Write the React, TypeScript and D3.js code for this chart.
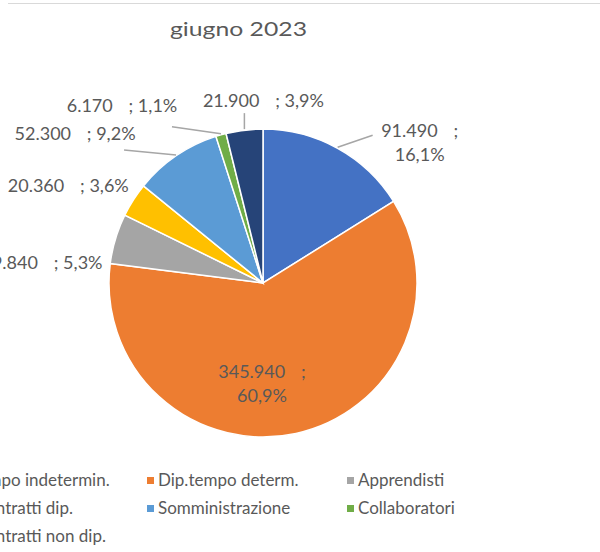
import React from "react";
import * as d3 from "d3";

const categories = [
  "Dip.tempo indetermin.",
  "Dip.tempo determ.",
  "Apprendisti",
  "Altri contratti dip.",
  "Somministrazione",
  "Collaboratori",
  "Altri contratti non dip.",
];
const values = [91490, 345940, 29840, 20360, 52300, 6170, 21900];
const colors = ["#4472C4", "#ED7D31", "#A5A5A5", "#FFC000", "#5B9BD5", "#70AD47", "#264478"];
const title = "giugno 2023";

// label layout: offsets relative to the slice's outer mid-point
const labelLayout = [
  { dx: 82, dy: -11, anchor: "middle", twoLines: true, leader: [35, -13] },
  { dx: -34, dy: -55, anchor: "middle", twoLines: true, leader: null },
  { dx: -13, dy: 30, anchor: "end", twoLines: false, leader: null },
  { dx: -65, dy: -8, anchor: "middle", twoLines: false, leader: null },
  { dx: -101, dy: -16, anchor: "middle", twoLines: false, leader: [-52, -6] },
  { dx: -99, dy: -23, anchor: "middle", twoLines: false, leader: [-49, -8] },
  { dx: 19, dy: -23, anchor: "middle", twoLines: false, leader: [0, -17] },
];

const W = 600;
const H = 552;
const cx = 263;
const cy = 283;
const R = 154;

const loc = d3.formatLocale({ decimal: ",", thousands: ".", grouping: [3], currency: ["", "€"] });
const fmtNum = loc.format(",d");
const fmtPct = loc.format(".1%");

const FONT = "Lato, 'Open Sans', sans-serif";
const TXT = "#595959";
const GAP = "\u2002\u2009 ";

export default function App() {
  const total = d3.sum(values);
  const pie = d3.pie<number>().sort(null).value((d) => d);
  const arcs = pie(values);
  const arcGen = d3.arc<d3.PieArcDatum<number>>().innerRadius(0).outerRadius(R);

  const legendCols = 3;
  const legendColX = [-69, 147, 347];
  const legendY0 = 486;
  const rowH = 28;

  return (
    <svg
      width={W}
      height={H}
      style={{ position: "absolute", left: 0, top: 0, background: "#fff" }}
      fontFamily={FONT}
    >
      <line x1={8} x2={W} y1={3.5} y2={3.5} stroke="#D9D9D9" strokeWidth={1} />
      <text
        x={170}
        y={36}
        fontSize={18.5}
        fill={TXT}
        textLength={137}
        lengthAdjust="spacingAndGlyphs"
      >
        {title}
      </text>
      <g transform={`translate(${cx},${cy})`}>
        {arcs.map((a, i) => (
          <path key={i} d={arcGen(a) || ""} fill={colors[i]} stroke="#fff" strokeWidth={1.5} />
        ))}
      </g>
      {arcs.map((a, i) => {
        const mid = (a.startAngle + a.endAngle) / 2;
        const ox = cx + R * Math.sin(mid);
        const oy = cy - R * Math.cos(mid);
        const L = labelLayout[i];
        const num = fmtNum(values[i]);
        const pct = fmtPct(values[i] / total);
        return (
          <g key={i}>
            {L.leader && (
              <line
                x1={ox}
                y1={oy - 1}
                x2={ox + L.leader[0]}
                y2={oy + L.leader[1]}
                stroke="#A6A6A6"
                strokeWidth={1.5}
              />
            )}
            {L.twoLines ? (
              <text
                x={ox + L.dx}
                y={oy + L.dy}
                textAnchor={L.anchor as any}
                fontSize={18}
                fill={TXT}
                style={{ whiteSpace: "pre" }}
              >
                <tspan x={ox + L.dx}>{`${num}${GAP};`}</tspan>
                <tspan x={ox + L.dx} dy={24}>
                  {pct}
                </tspan>
              </text>
            ) : (
              <text
                x={ox + L.dx}
                y={oy + L.dy}
                textAnchor={L.anchor as any}
                fontSize={18}
                fill={TXT}
                style={{ whiteSpace: "pre" }}
              >
                {`${num}${GAP}; ${pct}`}
              </text>
            )}
          </g>
        );
      })}
      {categories.map((c, i) => {
        const col = i % legendCols;
        const row = Math.floor(i / legendCols);
        const x = legendColX[col];
        const y = legendY0 + row * rowH;
        return (
          <g key={c}>
            <rect x={x} y={y - 9} width={7} height={7} fill={colors[i]} />
            <text x={x + 11} y={y} fontSize={17} fill={TXT}>
              {c}
            </text>
          </g>
        );
      })}
    </svg>
  );
}
